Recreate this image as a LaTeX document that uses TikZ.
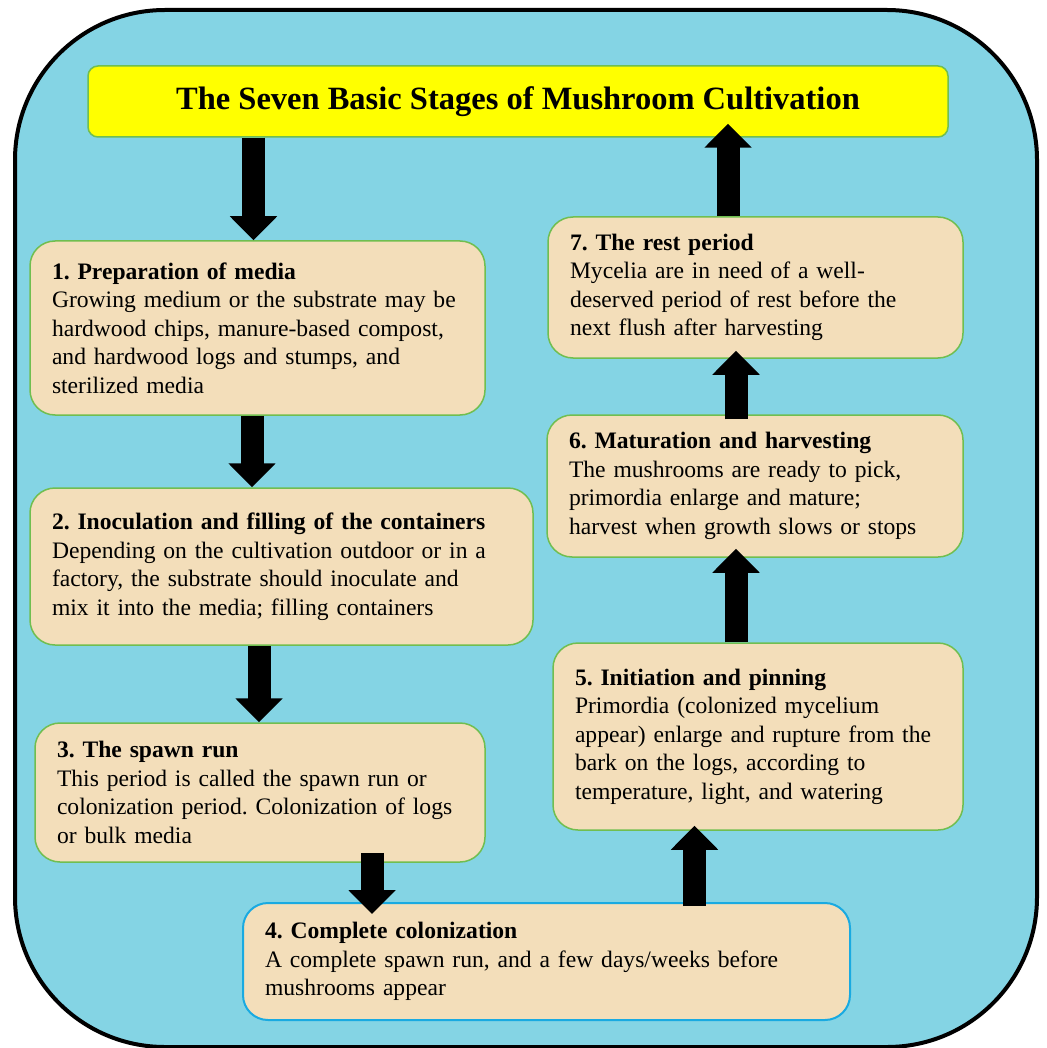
\documentclass[tikz,border=0pt]{standalone}
\usepackage{fontspec}
\setmainfont{Liberation Serif}
\frenchspacing
\usetikzlibrary{arrows.meta,positioning}
\definecolor{pool}{RGB}{132,212,228}
\definecolor{parchment}{RGB}{243,222,186}
\definecolor{leafgreen}{RGB}{112,190,80}
\definecolor{skyblue}{RGB}{25,170,225}
\definecolor{headyellow}{RGB}{255,255,0}
\tikzset{
  frame/.style={draw=black, line width=4pt, fill=pool, rounded corners=150pt, inner sep=0pt},
  stagebox/.style={draw=leafgreen, line width=1.5pt, fill=parchment, rounded corners=25pt, align=left, inner xsep=22pt, inner ysep=0pt, font=\fontsize{23.6}{28.5}\selectfont},
  headbox/.style={draw=leafgreen, line width=1.5pt, fill=headyellow, rounded corners=10pt, font=\fontsize{32.5}{36}\selectfont\bfseries},
  bigarr/.style={line width=23pt, -{Triangle[length=24pt, width=46pt]}},
}
\begin{document}
\begin{tikzpicture}[x=1pt,y=-1pt]
\useasboundingbox (0,0) rectangle (1046,1048);
\node[frame, minimum width=1022pt, minimum height=1037pt] (frame) at (526,528.5) {};
% title
\node[headbox, minimum width=860pt, minimum height=71pt] (title) at (518,101.5) {The Seven Basic Stages of Mushroom Cultivation};
% left column
\node[stagebox, minimum height=174pt, text width=411pt] (s1) at (257.5,328) {\textbf{1. Preparation of media}\\Growing medium or the substrate may be\\hardwood chips, manure-based compost,\\and hardwood logs and stumps, and\\sterilized media};
\node[stagebox, minimum height=157pt, text width=459pt] (s2) at (281.5,566.5) {\textbf{2. Inoculation and filling of the containers}\\Depending on the cultivation outdoor or in a\\factory, the substrate should inoculate and\\mix it into the media; filling containers};
\node[stagebox, minimum height=139pt, text width=406pt] (s3) at (260,792.5) {\textbf{3. The spawn run}\\This period is called the spawn run or\\colonization period. Colonization of logs\\or bulk media};
% bottom
\node[stagebox, draw=skyblue, line width=2pt, minimum height=117pt, text width=563pt] (s4) at (546.5,961.5) {\textbf{4. Complete colonization}\\A complete spawn run, and a few days/weeks before\\mushrooms appear};
% right column
\node[stagebox, minimum height=187pt, text width=366pt] (s5) at (758,736.5) {\textbf{5. Initiation and pinning}\\Primordia (colonized mycelium\\appear) enlarge and rupture from the\\bark on the logs, according to\\temperature, light, and watering};
\node[stagebox, minimum height=142pt, text width=372pt] (s6) at (755,486) {\textbf{6. Maturation and harvesting}\\The mushrooms are ready to pick,\\primordia enlarge and mature;\\harvest when growth slows or stops};
\node[stagebox, minimum height=141pt, text width=371pt] (s7) at (755.5,287.5) {\textbf{7. The rest period}\\Mycelia are in need of a well-\\deserved period of rest before the\\next flush after harvesting};
% arrows
\draw[bigarr] ([xshift=-4pt]s1.north |- title.south) -- ([xshift=-4pt]s1.north);
\draw[bigarr] ([xshift=-5.5pt]s1.south) -- ([xshift=-5.5pt]s1.south |- s2.north);
\draw[bigarr] ([xshift=-1pt]s3.north |- s2.south) -- ([xshift=-1pt]s3.north);
\draw[bigarr] ([xshift=112pt,yshift=10pt]s3.south) -- ([xshift=112pt,yshift=-12pt]s3.south |- s4.north);
\draw[bigarr] ([xshift=-63.5pt,yshift=-4pt]s5.south |- s4.north) -- ([xshift=-63.5pt,yshift=5pt]s5.south);
\draw[bigarr] ([xshift=-22pt]s5.north) -- ([xshift=-22pt,yshift=9pt]s5.north |- s6.south);
\draw[bigarr] ([xshift=-19pt,yshift=-5pt]s6.north) -- ([xshift=-19pt,yshift=8pt]s6.north |- s7.south);
\draw[bigarr] ([xshift=-27.5pt]s7.north) -- ([xshift=-27.5pt,yshift=14pt]s7.north |- title.south);
\end{tikzpicture}
\end{document}
